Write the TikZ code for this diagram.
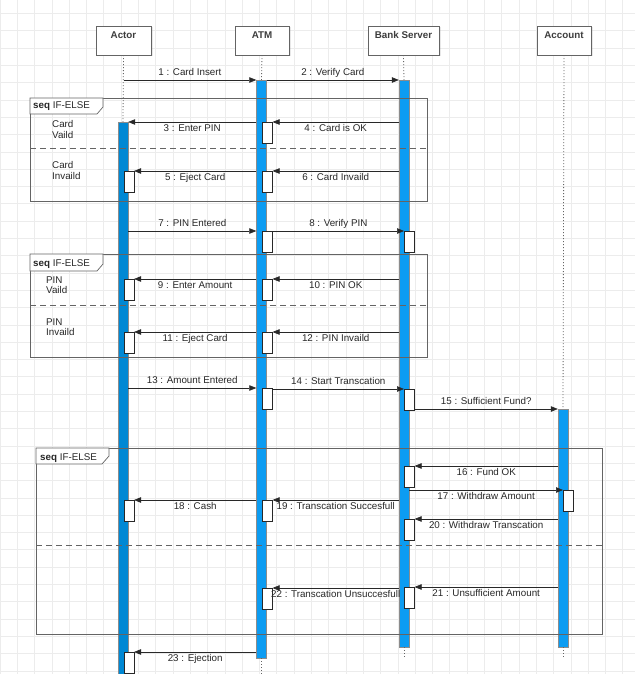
\documentclass[tikz,border=0pt]{standalone}
\usepackage{fontspec}
\setmainfont{Liberation Sans}
\usetikzlibrary{arrows.meta, positioning, shadows}

\definecolor{gridgray}{RGB}{236,236,236}
\definecolor{inkgray}{RGB}{40,40,40}
\definecolor{framegray}{RGB}{100,100,100}
\definecolor{actorblue}{RGB}{0,136,212}
\definecolor{barblue}{RGB}{12,156,242}

\newcommand{\msgfont}{\fontsize{9.8}{10.5}\selectfont}

\tikzset{
  gridline/.style={draw=gridgray, line width=0.8pt},
  headbox/.style={draw=framegray, fill=white, minimum height=29, inner sep=0,
    drop shadow={opacity=0.18, shadow xshift=1.5pt, shadow yshift=-1.5pt}},
  headtext/.style={font=\msgfont\bfseries, text=inkgray!90, inner sep=0, text height=7pt, text depth=2pt},
  lifeline/.style={draw=framegray, line width=0.8pt, dash pattern=on 1pt off 2pt},
  bar/.style={draw=black!45, line width=0.4pt, minimum width=10, inner sep=0, anchor=north},
  actbox/.style={draw=inkgray, fill=white, line width=0.6pt, minimum width=10, minimum height=21, inner sep=0, anchor=north west},
  msg/.style={draw=inkgray, line width=0.6pt, -{Triangle[length=7pt, width=5.5pt]}},
  msgup/.style={midway, above, font=\msgfont, text=inkgray, inner sep=2pt, text height=7pt, text depth=2pt},
  msgdown/.style={midway, below, font=\msgfont, text=inkgray, inner sep=2pt, text height=7pt, text depth=2pt},
  frame/.style={draw=framegray, line width=0.7pt},
  divider/.style={draw=framegray, line width=0.7pt, dash pattern=on 6pt off 4pt},
  tab/.style={draw=framegray, fill=white, line width=0.7pt},
  tabtext/.style={anchor=base west, font=\msgfont, text=inkgray, inner sep=0},
  guard/.style={anchor=north west, align=left, font=\msgfont, text=inkgray, inner sep=0}
}

\begin{document}
\begin{tikzpicture}[x=1pt, y=-1pt]
  \useasboundingbox (0,0) rectangle (635,674);
  \fill[white] (0,0) rectangle (635,674);

  % Background grid
  \foreach \i in {0,...,36} \draw[gridline] (\i*17.3,0) -- (\i*17.3,674);
  \foreach \j in {0,...,38} \draw[gridline] (0,13.5+\j*17.3) -- (635,13.5+\j*17.3);

  % Lifeline heads
  \node[headbox, minimum width=55] (hActor) at (123.5,40.5) {};
  \node[headbox, minimum width=54] (hATM) at (262,40.5) {};
  \node[headbox, minimum width=71] (hBank) at (403.5,40.5) {};
  \node[headbox, minimum width=54] (hAccount) at (564,40.5) {};
  \node[headtext, below=6pt of hActor.north] (tActor) {Actor};
  \node[headtext, below=6pt of hATM.north] (tATM) {ATM};
  \node[headtext, below=6pt of hBank.north] (tBank) {Bank Server};
  \node[headtext, below=6pt of hAccount.north] (tAccount) {Account};

  % Activation bars
  \node[bar, fill=actorblue, minimum height=552] (barActor) at (123,122) {};
  \node[bar, fill=barblue, minimum height=578] (barATM) at (261.5,80) {};
  \node[bar, fill=barblue, minimum height=567] (barBank) at (404,80) {};
  \node[bar, fill=barblue, minimum height=238] (barAccount) at (563,409) {};

  % Dotted lifelines
  \coordinate (endATM) at (261.5,674);
  \coordinate (endBank) at (404,657);
  \coordinate (endAccount) at (563,657);
  \draw[lifeline] (hActor.south) -- (barActor.north);
  \draw[lifeline] (hATM.south) -- (barATM.north);
  \draw[lifeline] (hBank.south) -- (barBank.north);
  \draw[lifeline] (hAccount.south) -- (barAccount.north);
  \draw[lifeline] (barATM.south) -- (endATM);
  \draw[lifeline] (barBank.south) -- (endBank);
  \draw[lifeline] (barAccount.south) -- (endAccount);

  % Small activation boxes
  \node[actbox] (bx4) at (262,122) {};
  \node[actbox] (bx5) at (123.5,171) {};
  \node[actbox] (bx6) at (262,171) {};
  \node[actbox] (bx7) at (262,231) {};
  \node[actbox] (bx8) at (404,231) {};
  \node[actbox] (bx9) at (123.5,279) {};
  \node[actbox] (bx10) at (262,279) {};
  \node[actbox] (bx11) at (123.5,332) {};
  \node[actbox] (bx12) at (262,332) {};
  \node[actbox] (bx13) at (262,388) {};
  \node[actbox] (bx14) at (404,389) {};
  \node[actbox] (bx16) at (404,466) {};
  \node[actbox] (bx17) at (563,490) {};
  \node[actbox] (bx18) at (123.5,500) {};
  \node[actbox] (bx19) at (262,500) {};
  \node[actbox] (bx20) at (404,519) {};
  \node[actbox] (bx21) at (404,587) {};
  \node[actbox] (bx22) at (262,588) {};
  \node[actbox] (bx23) at (123.5,652) {};

  % Messages
  \draw[msg] (hActor.south |- barATM.north) -- (barATM.north west) node[msgup] (m1) {1 : Card Insert};
  \draw[msg] (barATM.north east) -- (barBank.north west) node[msgup] (m2) {2 : Verify Card};
  \draw[msg] (barATM.west |- barActor.north) -- (barActor.north east) node[msgdown] (m3) {3 : Enter PIN};
  \draw[msg] (barBank.west |- bx4.north) -- (bx4.north east) node[msgdown] (m4) {4 : Card is OK};
  \draw[msg] (barATM.west |- bx5.north) -- (bx5.north east) node[msgdown] (m5) {5 : Eject Card};
  \draw[msg] (barBank.west |- bx6.north) -- (bx6.north east) node[msgdown] (m6) {6 : Card Invaild};
  \draw[msg] (barActor.east |- bx7.north) -- (barATM.west |- bx7.north) node[msgup] (m7) {7 : PIN Entered};
  \draw[msg] (bx7.north east) -- (bx8.north west) node[msgup] (m8) {8 : Verify PIN};
  \draw[msg] (barATM.west |- bx9.north) -- (bx9.north east) node[msgdown] (m9) {9 : Enter Amount};
  \draw[msg] (barBank.west |- bx10.north) -- (bx10.north east) node[msgdown] (m10) {10 : PIN OK};
  \draw[msg] (barATM.west |- bx11.north) -- (bx11.north east) node[msgdown] (m11) {11 : Eject Card};
  \draw[msg] (barBank.west |- bx12.north) -- (bx12.north east) node[msgdown] (m12) {12 : PIN Invaild};
  \draw[msg] (barActor.east |- bx13.north) -- (barATM.west |- bx13.north) node[msgup] (m13) {13 : Amount Entered};
  \draw[msg] (bx13.east |- bx14.north) -- (bx14.north west) node[msgup] (m14) {14 : Start Transcation};
  \draw[msg] (bx14.east |- barAccount.north) -- (barAccount.north west) node[msgup] (m15) {15 : Sufficient Fund?};
  \draw[msg] (barAccount.west |- bx16.north) -- (bx16.north east) node[msgdown] (m16) {16 : Fund OK};
  \draw[msg] (barBank.east |- bx17.north) -- (bx17.north west) node[msgdown] (m17) {17 : Withdraw Amount};
  \draw[msg] (barATM.west |- bx18.north) -- (bx18.north east) node[msgdown] (m18) {18 : Cash};
  \draw[msg] (barBank.west |- bx19.north) -- (bx19.north east) node[msgdown] (m19) {19 : Transcation Succesfull};
  \draw[msg] (barAccount.west |- bx20.north) -- (bx20.north east) node[msgdown] (m20) {20 : Withdraw Transcation};
  \draw[msg] (barAccount.west |- bx21.north) -- (bx21.north east) node[msgdown] (m21) {21 : Unsufficient Amount};
  \draw[msg] (barBank.west |- bx22.north) -- (bx22.north east) node[msgdown] (m22) {22 : Transcation Unsuccesfull};
  \draw[msg] (barATM.west |- bx23.north) -- (bx23.north east) node[msgdown] (m23) {23 : Ejection};

  % Frame 1: card check
  \draw[frame] (30,98) rectangle (427,201);
  \draw[divider] (30,148) -- (427,148);
  \draw[tab] (30,98) -- (103,98) -- (103,107) -- (97,114) -- (30,114) -- cycle;
  \node[tabtext] (tab1) at (33,109) {\textbf{seq} IF-ELSE};
  \node[guard] (g1) at (52,120.5) {Card\\Vaild};
  \node[guard] (g2) at (52,161.5) {Card\\Invaild};

  % Frame 2: PIN check
  \draw[frame] (30,254) rectangle (427,357);
  \draw[divider] (30,305) -- (427,305);
  \draw[tab] (30,254) -- (103,254) -- (103,264) -- (97,271) -- (30,271) -- cycle;
  \node[tabtext] (tab2) at (33,266) {\textbf{seq} IF-ELSE};
  \node[guard] (g3) at (46,276.5) {PIN\\Vaild};
  \node[guard] (g4) at (46,318.5) {PIN\\Invaild};

  % Frame 3: funds check
  \draw[frame] (36,448) rectangle (602,634);
  \draw[divider] (36,545) -- (602,545);
  \draw[tab] (36,448) -- (109,448) -- (109,456) -- (102,464) -- (36,464) -- cycle;
  \node[tabtext] (tab3) at (40,460) {\textbf{seq} IF-ELSE};
\end{tikzpicture}
\end{document}
